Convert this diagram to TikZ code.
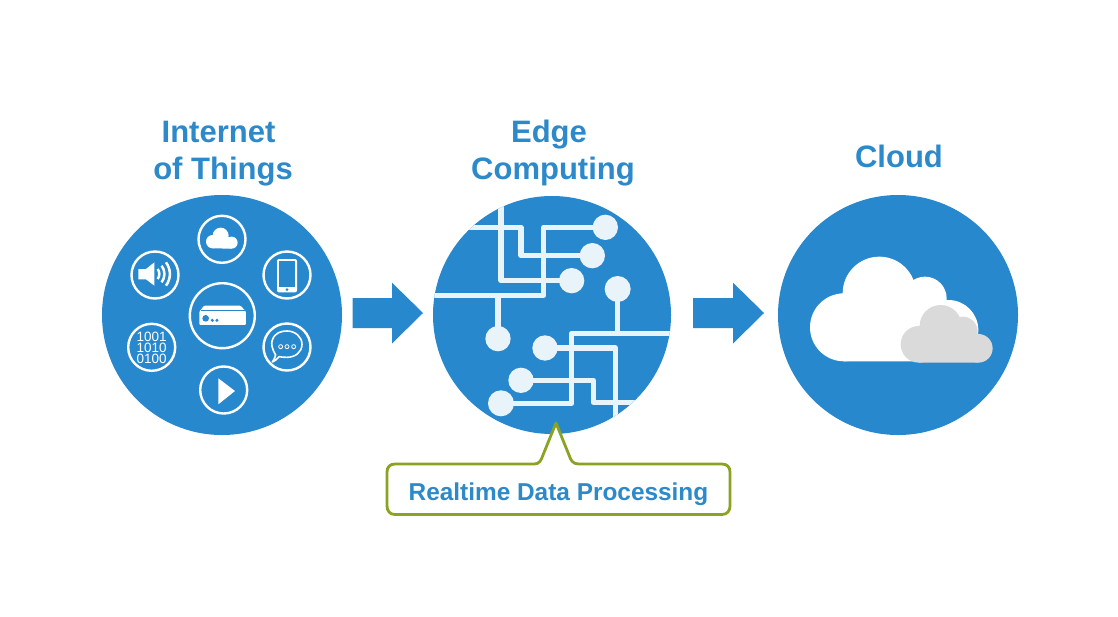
\documentclass[tikz,border=0pt]{standalone}
\usepackage{fontspec}
\setmainfont{Liberation Sans}
\definecolor{discblue}{HTML}{2888CE}
\definecolor{titleblue}{HTML}{2C89CA}
\definecolor{wirewhite}{HTML}{E9F3FA}
\definecolor{calloutgreen}{HTML}{8AA322}
\definecolor{cloudgrey}{HTML}{DADADA}
\tikzset{
  disc/.style={circle,fill=discblue,inner sep=0pt,outer sep=0pt,minimum size=240pt},
  iconring/.style={circle,draw=white,line width=2.4pt,fill=discblue,inner sep=0pt,outer sep=0pt,minimum size=47pt},
  bigring/.style={iconring,minimum size=65pt},
  heading/.style={text=titleblue,font=\fontsize{31}{31}\selectfont\bfseries,inner sep=0pt,anchor=base},
  wire/.style={draw=wirewhite,line width=5.4pt,line join=round},
  pad/.style={fill=wirewhite},
  blockarrow/.style={fill=discblue,draw=none},
}
\begin{document}
\begin{tikzpicture}[x=1pt,y=-1pt]
\useasboundingbox[fill=white] (0,0) rectangle (1118,616);

% headings
\node[heading] (t1a) at (218.5,142.5) {Internet};
\node[heading] (t1b) at (223,179.5) {of Things};
\node[heading] (t2a) at (549,142.5) {Edge};
\node[heading] (t2b) at (553,179.5) {Computing};
\node[heading] (t3) at (899,167.5) {Cloud};

% discs
\node[disc] (iot) at (222,315) {};
\node[disc,minimum size=238pt] (edge) at (552,315) {};
\node[disc] (cloud) at (898,315) {};

% block arrows
\path[blockarrow] (352.7,298) -- (392,298) -- (392,282.7) -- (423,313) -- (392,343.5) -- (392,328) -- (352.7,328) -- cycle;
\path[blockarrow] (693,298) -- (733,298) -- (733,282.7) -- (764,313) -- (733,343.5) -- (733,328) -- (693,328) -- cycle;

% IoT rings
\node[iconring] (icloud) at (222,239.3) {};
\node[iconring] (ispeak) at (155,275) {};
\node[iconring] (iphone) at (287,275) {};
\node[bigring] (ibox) at (222.3,315.7) {};
\node[iconring] (ibin) at (151.7,347.3) {};
\node[iconring] (ichat) at (287,347) {};
\node[iconring] (iplay) at (223.7,390) {};

% mini cloud, router, play
\begin{scope}[shift={(90,190)},x=0.3333pt,y=-0.3333pt]
  \fill[white] (368,155) circle[radius=20] (392,137) circle[radius=24] (425,158) circle[radius=18];
  \fill[white] (368,140) -- (425,142) -- (425,176) -- (368,175) -- cycle;
  \fill[white,rounded corners=1pt] (328,405) -- (328,365) -- (342,347) -- (452,347) -- (468,365) -- (468,405) -- cycle;
  \draw[discblue,line width=0.5pt] (332,360) -- (464,360);
  \fill[discblue] (347,385) circle[radius=10] (367,391) circle[radius=5] (381,391) circle[radius=5];
  \fill[white] (385,565) -- (435,603) -- (385,643) -- cycle;
\end{scope}

% speaker
\begin{scope}[shift={(120,245)},x=0.3333pt,y=-0.3333pt]
  \fill[white] (55,72) -- (78,72) -- (103,52) -- (103,122) -- (78,103) -- (55,103) -- cycle;
  \draw[white,line width=2.5pt] (113,72) to[bend left=35] (113,102);
  \draw[white,line width=2.5pt] (125,62) to[bend left=35] (125,112);
  \draw[white,line width=2.5pt] (138,52) to[bend left=35] (138,122);
\end{scope}
\node[text=white,font=\fontsize{13.5}{11}\selectfont,align=center,inner sep=0pt] (bits) at (151.7,347.6) {1001\\1010\\0100};

% phone and chat
\begin{scope}[shift={(255,245)},x=0.3333pt,y=-0.3333pt]
  \fill[white,rounded corners=2pt] (66,42) rectangle (126,142);
  \fill[discblue] (72,48) rectangle (120,126);
  \fill[discblue] (96,134) circle[radius=4.5];
  \draw[white,line width=1.6pt,line join=round] (62,330) .. controls (50,310) and (48,295) .. (52,285) .. controls (60,262) and (80,258) .. (96,258) .. controls (120,258) and (141,275) .. (141,298) .. controls (141,322) and (120,337) .. (96,337) .. controls (85,337) and (78,336) .. (72,335) .. controls (66,342) and (60,349) .. (52,351) .. controls (57,344) and (60,338) .. (62,330) -- cycle;
  \draw[white,line width=0.8pt] (77,305) circle[radius=6] (96,305) circle[radius=6] (116,305) circle[radius=6];
\end{scope}

% edge circuit
\begin{scope}
  \clip (552,315) circle[radius=119];
  \begin{scope}[shift={(425,190)},x=0.3333pt,y=-0.3333pt]
    \draw[wire] (228,30) -- (228,272) -- (440,272);
    \draw[wire] (100,112) -- (288,112) -- (288,197) -- (502,197);
    \draw[wire] (10,316) -- (356,316) -- (356,112) -- (541,112);
    \draw[wire] (219,316) -- (219,446);
    \draw[wire] (578,297) -- (578,430);
    \draw[wire] (760,430) -- (440,430) -- (440,640) -- (228,640);
    \draw[wire] (360,474) -- (571,474) -- (571,720);
    \draw[wire] (288,571) -- (505,571) -- (505,637) -- (680,637);
    \fill[pad] (541,112) circle[radius=38] (502,197) circle[radius=38] (440,272) circle[radius=38]
      (578,297) circle[radius=39] (219,446) circle[radius=38] (360,474) circle[radius=38]
      (288,571) circle[radius=38] (228,640) circle[radius=39];
  \end{scope}
\end{scope}

% big cloud
\begin{scope}[shift={(770,190)},x=0.3333pt,y=-0.3333pt]
  \fill[white] (222,412) circle[radius=102] (328,310) circle[radius=110] (465,325) circle[radius=65] (535,420) circle[radius=90];
  \fill[white] (222,514) -- (222,340) -- (330,300) -- (480,330) -- (540,510) -- (540,514) -- cycle;
  \fill[cloudgrey] (447,463) circle[radius=55] (512,408) circle[radius=63] (578,425) circle[radius=45] (625,475) circle[radius=43];
  \fill[cloudgrey] (447,518) -- (447,420) -- (580,420) -- (625,518) -- cycle;
\end{scope}

% callout
\draw[calloutgreen,line width=2.8pt,fill=white,line join=round] (556,423) -- (569,455) .. controls (571,461) and (573,464) .. (579,464) -- (722,464) .. controls (727,464) and (730,467) .. (730,472) -- (730,506) .. controls (730,511) and (727,514.5) .. (722,514.5) -- (395,514.5) .. controls (390,514.5) and (387,511) .. (387,506) -- (387,472) .. controls (387,467) and (390,464) .. (395,464) -- (534,464) .. controls (539,464) and (541,461) .. (543,455) -- cycle;
\node[text=titleblue,font=\fontsize{24.4}{24.4}\selectfont\bfseries,inner sep=0pt,anchor=base] (calloutlabel) at (558.5,500) {Realtime Data Processing};
\end{tikzpicture}
\end{document}
